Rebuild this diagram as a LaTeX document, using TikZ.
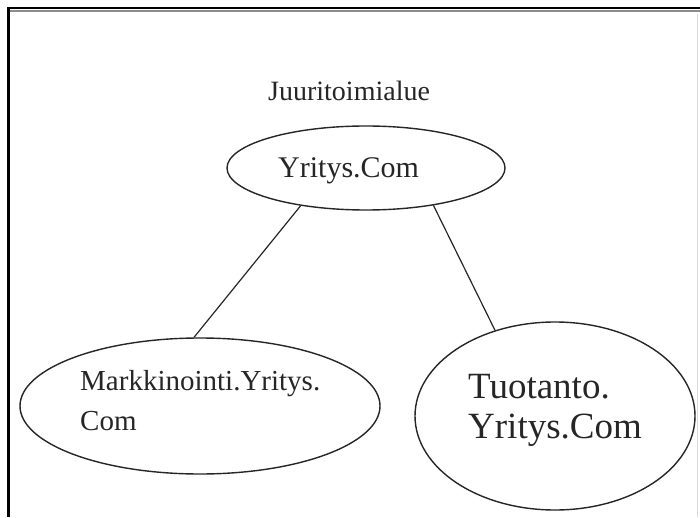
\documentclass[tikz,border=0pt]{standalone}
\usepackage{fontspec}
\setmainfont{Liberation Serif}
\usetikzlibrary{shapes.geometric}
\begin{document}
\begin{tikzpicture}[x=1pt,y=1pt,
  oval/.style={draw=black!85,line width=1.4pt,ellipse,inner sep=0pt},
  lbl/.style={inner sep=0pt,anchor=base west,text=black!85,align=left},
  conn/.style={draw=black!85,line width=1.2pt}]
\useasboundingbox (0,0) rectangle (700,517);
\fill[white] (0,0) rectangle (700,517);
% frame
\draw[line width=2pt] (7,508.5) -- (700,508.5);
\draw[line width=2pt,black!45] (9,505.5) -- (700,505.5);
\draw[line width=3pt] (8.5,510) -- (8.5,0);
\draw[line width=1pt,black!15] (697,503) -- (697,0);
% ellipses
\node[oval,minimum width=278pt,minimum height=84pt] (root) at (366,349) {};
\node[oval,minimum width=360pt,minimum height=136pt] (mark) at (200,111) {};
\node[oval,minimum width=280pt,minimum height=188pt] (tuot) at (555,101) {};
% texts
\node[lbl,font=\fontsize{28}{34}\selectfont] (title) at (268,416) {Juuritoimialue};
\node[lbl,font=\fontsize{30}{36}\selectfont] (roottxt) at (278,339) {Yritys.Com};
\node[lbl,font=\fontsize{29}{40}\selectfont] (marktxt) at (80,87) {Markkinointi.Yritys.\\Com};
\node[lbl,font=\fontsize{37}{40}\selectfont] (tuottxt) at (468,79) {Tuotanto.\\Yritys.Com};
% connectors
\draw[conn] (root.210) -- (mark.95.6);
\draw[conn] (root.331) -- (tuot.125);
\end{tikzpicture}
\end{document}
